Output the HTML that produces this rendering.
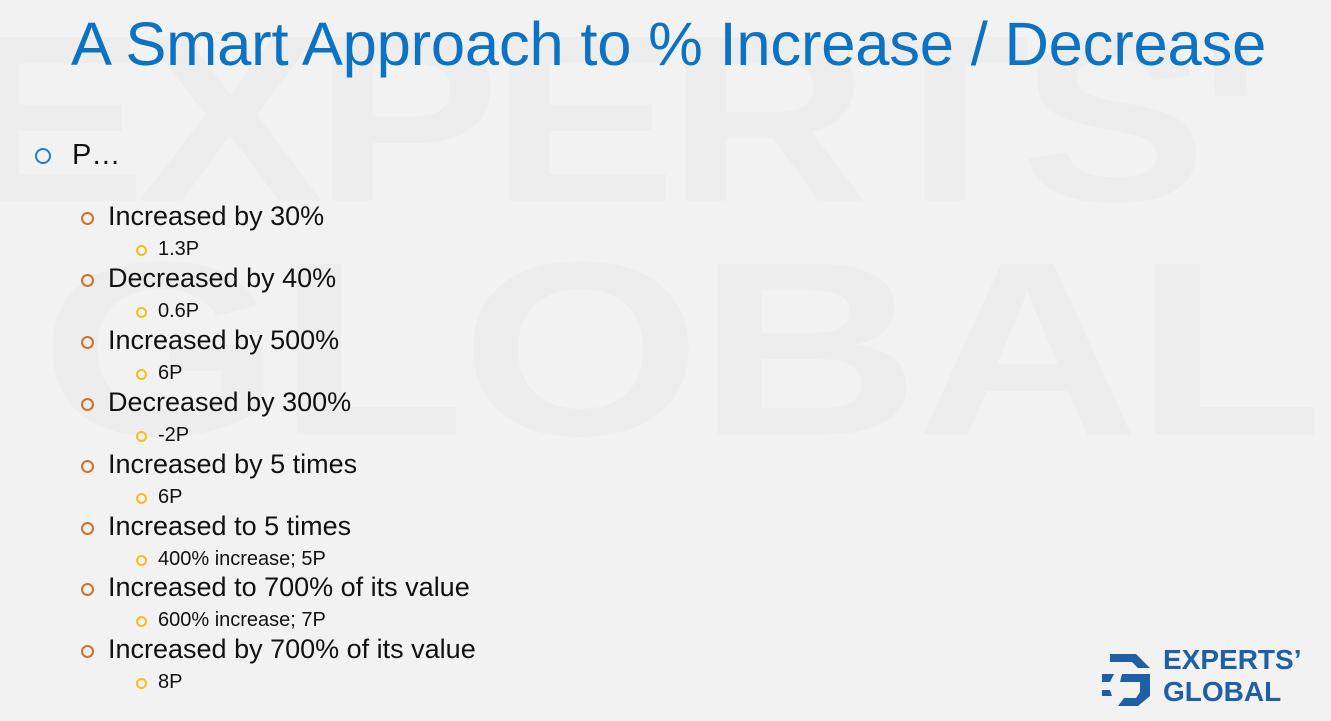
<!DOCTYPE html>
<html><head><meta charset="utf-8"><style>
body{margin:0;width:1331px;height:721px;overflow:hidden;background:#f2f2f2;font-family:"Liberation Sans",sans-serif;position:relative}
#wrap{position:absolute;left:0;top:0;width:1331px;height:721px;overflow:hidden}
.wm{position:absolute;font-weight:bold;color:#ededed;white-space:nowrap;line-height:1}
.t{position:absolute;left:71px;top:9px;font-size:61.5px;color:#0b72c4;white-space:nowrap;letter-spacing:-0.2px}
.l{position:absolute;white-space:nowrap;color:#111;line-height:1}
.b{position:absolute;border-radius:50%;box-sizing:border-box}
.l2{font-size:27px;left:108px}
.l3{font-size:20px;left:158px}
</style></head><body>
<div id="wrap">
<div class="wm" style="left:-40px;top:0px;font-size:280px;letter-spacing:-10px;transform:scaleY(0.85);transform-origin:top left">EXPERTS'</div>
<div class="wm" style="left:40px;top:225px;font-size:310px;letter-spacing:-5px;transform:scaleY(0.8);transform-origin:top left">GLOBAL</div>
<div class="t">A Smart Approach to % Increase / Decrease</div>
<div class="b" style="left:35px;top:148px;width:16px;height:16px;border:2px solid #1a7fd0"></div>
<div class="l" style="left:72px;top:141px;font-size:29px">P…</div>
<div id="items"></div>
<svg style="position:absolute;left:1100px;top:646px" width="60" height="62" viewBox="0 0 60 62">
<path d="M10 8 L36 8 L50 22 L38 22 L32 16 L10 16 Z" fill="#1f5fa6"/>
<path d="M2 28 L14 28 L10 36 L2 36 Z" fill="#1f5fa6"/>
<path d="M2 44 L10 44 L12 50 L2 50 Z" fill="#1f5fa6"/>
<path d="M22 28 L50 28 L50 50 L38 60 L18 60 L24 52 L36 52 L40 46 L40 36 L20 36 Z" fill="#1f5fa6"/>
</svg>
<div class="l" style="left:1163px;top:646px;font-size:28px;font-weight:bold;color:#1f5fa6">EXPERTS’</div>
<div class="l" style="left:1163px;top:678px;font-size:28px;font-weight:bold;color:#1f5fa6">GLOBAL</div>
</div>
<script>
var it=[["Increased by 30%","1.3P"],["Decreased by 40%","0.6P"],["Increased by 500%","6P"],["Decreased by 300%","-2P"],["Increased by 5 times","6P"],["Increased to 5 times","400% increase; 5P"],["Increased to 700% of its value","600% increase; 7P"],["Increased by 700% of its value","8P"]];
var h="";
for(var i=0;i<8;i++){var y=218+i*61.9;
h+='<div class="b" style="left:81px;top:'+(y-6)+'px;width:13px;height:13px;border:2px solid #d0702c"></div>';
h+='<div class="l l2" style="top:'+(y-15)+'px">'+it[i][0]+'</div>';
var y3=y+32;
h+='<div class="b" style="left:136px;top:'+(y3-5)+'px;width:11px;height:11px;border:2px solid #f4bf20"></div>';
h+='<div class="l l3" style="top:'+(y3-11)+'px">'+it[i][1]+'</div>';}
document.getElementById("items").innerHTML=h;
</script>
</body></html>
